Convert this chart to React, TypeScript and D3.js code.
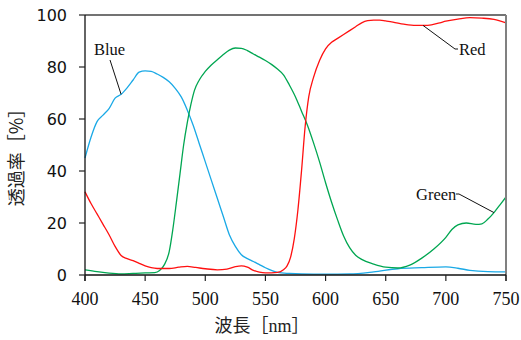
import * as d3 from 'd3';

// Transmission spectra of the three colour filters (wavelength nm -> %)
const blueNm = [400, 405, 410, 415, 420, 425, 430, 435, 440, 445, 450, 455, 460, 465, 470, 475, 480, 485, 490, 495, 500, 505, 510, 515, 520, 525, 530, 535, 540, 545, 550, 555, 560, 570, 580, 600, 620, 640, 660, 680, 700, 710, 720, 735, 750];
const blueT = [45, 53, 59, 61.5, 64, 68, 69.5, 72, 75, 78, 78.5, 78.3, 77.3, 76, 74.3, 71.8, 68.5, 63.5, 57.5, 50.5, 43.5, 36.5, 29.5, 22.5, 15.5, 11, 7.8, 6.3, 5.2, 4, 2.8, 1.8, 1, 0.6, 0.4, 0.3, 0.4, 1.2, 2.4, 2.8, 3.1, 2.6, 1.8, 1.3, 1.2];

const greenNm = [400, 410, 420, 430, 440, 450, 458, 462, 466, 470, 473, 476, 479, 482, 485, 488, 491, 495, 500, 505, 510, 515, 520, 525, 530, 535, 540, 545, 550, 555, 560, 565, 570, 575, 580, 585, 590, 595, 600, 605, 610, 615, 620, 625, 630, 640, 650, 660, 670, 680, 690, 700, 705, 710, 717, 725, 730, 735, 740, 745, 750];
const greenT = [2, 1.3, 0.7, 0.4, 0.6, 0.8, 0.9, 1.7, 4, 9, 17.5, 28, 39, 50, 58.5, 65.5, 71, 75, 78.3, 80.8, 82.8, 84.8, 86.5, 87.3, 87.2, 86.3, 85, 83.8, 82.5, 81, 79.2, 77, 73, 68.5, 63, 57.5, 50.8, 43.5, 35.5, 28, 21.2, 15, 10.5, 7.6, 6, 4.2, 3, 2.7, 3.8, 6.5, 10, 14.5, 17.5, 19.3, 20, 19.5, 19.7, 21.5, 24, 27, 30];

const redNm = [400, 405, 410, 415, 420, 425, 430, 435, 440, 445, 450, 455, 460, 470, 478, 485, 492, 500, 510, 518, 525, 530, 535, 540, 545, 550, 560, 565, 568, 571, 574, 577, 580, 583, 586, 590, 595, 600, 605, 610, 615, 620, 625, 630, 635, 640, 645, 650, 656, 665, 675, 685, 695, 700, 710, 720, 730, 740, 750];
const redT = [32, 27.5, 23.5, 19.5, 15.5, 11, 7.5, 6.3, 5.5, 4.5, 3.5, 2.8, 2.5, 2.5, 3, 3.3, 2.9, 2.4, 2, 2.3, 3.2, 3.5, 3, 1.8, 1.1, 0.8, 1, 2, 3.5, 7, 14, 25, 40, 57, 68.5, 76, 82.5, 87, 89.5, 91, 92.5, 94, 95.5, 97, 97.8, 98, 98, 97.7, 97.3, 96.5, 96, 96, 97, 97.6, 98.4, 99, 98.8, 98.3, 97];

const xTicks = [400, 450, 500, 550, 600, 650, 700, 750];
const yTicks = [0, 20, 40, 60, 80, 100];

const series = [
  { name: 'Blue', nm: blueNm, t: blueT, color: '#1aa9e6' },
  { name: 'Green', nm: greenNm, t: greenT, color: '#00a651' },
  { name: 'Red', nm: redNm, t: redT, color: '#ff1010' },
];

// label text position + leader line anchored on a wavelength of the curve
const labels = [
  { name: 'Blue', tx: 94, ty: 55, lineFrom: [110, 60], anchorNm: 430, anchorSeries: 'Blue', kink: false },
  { name: 'Red', tx: 459, ty: 55, lineFrom: [455, 49], anchorNm: 681, anchorSeries: 'Red', kink: true },
  { name: 'Green', tx: 416, ty: 200, lineFrom: [459, 194], anchorNm: 740, anchorSeries: 'Green', kink: true },
];

const W = 521;
const H = 340;
const margin = { top: 15, right: 15, bottom: 65, left: 85 };

export default function App() {
  const x = d3.scaleLinear().domain([400, 750]).range([margin.left, W - margin.right]);
  const y = d3.scaleLinear().domain([0, 100]).range([H - margin.bottom, margin.top]);
  const x0 = x(400);
  const x1 = x(750);
  const y0 = y(0);
  const yTop = y(100);

  const line = d3
    .line<[number, number]>()
    .x((d) => x(d[0]))
    .y((d) => y(d[1]))
    .curve(d3.curveMonotoneX);

  const valueAt = (name: string, nm: number) => {
    const s = series.find((d) => d.name === name)!;
    const i = d3.bisectLeft(s.nm, nm);
    if (s.nm[i] === nm) return s.t[i];
    const a = i - 1;
    const f = (nm - s.nm[a]) / (s.nm[i] - s.nm[a]);
    return s.t[a] + f * (s.t[i] - s.t[a]);
  };

  return (
    <svg width={W} height={H} style={{ position: 'absolute', left: 0, top: 0, background: '#fff' }}>
      {series.map((s) => (
        <path
          key={s.name}
          d={line(s.nm.map((n, i) => [n, s.t[i]] as [number, number])) || ''}
          fill="none"
          stroke={s.color}
          strokeWidth={1.3}
        />
      ))}

      {/* frame */}
      <line x1={x0} x2={x1} y1={yTop} y2={yTop} stroke="#444" strokeWidth={1.3} />
      <line x1={x1} x2={x1} y1={yTop} y2={y0 + 6} stroke="#808080" strokeWidth={2} />
      <line x1={x0} x2={x0} y1={yTop} y2={y0 + 6} stroke="#111" strokeWidth={1.3} />
      <line x1={x0} x2={x1} y1={y0} y2={y0} stroke="#111" strokeWidth={1.3} />

      {/* y axis */}
      {yTicks.map((t) => (
        <g key={t}>
          <line x1={x0 - 6} x2={x0} y1={y(t)} y2={y(t)} stroke="#222" strokeWidth={1.2} />
          <text
            x={x0 - 18}
            y={y(t)}
            dy="0.36em"
            textAnchor="end"
            fontFamily="DejaVu Sans"
            fontSize={16}
            fill="#111"
          >
            {t}
          </text>
        </g>
      ))}

      {/* x axis */}
      {xTicks.map((t) => (
        <g key={t}>
          <line x1={x(t)} x2={x(t)} y1={y0} y2={y0 + 6} stroke="#222" strokeWidth={1.2} />
          <text x={x(t)} y={y0 + 30} textAnchor="middle" fontFamily="Liberation Serif" fontSize={18} fill="#111">
            {t}
          </text>
        </g>
      ))}

      <text x={262} y={332} textAnchor="middle" fontSize={18} fill="#222" fontFamily="'Noto Sans CJK JP'">
        波長［<tspan fontFamily="Liberation Serif">nm</tspan>］
      </text>
      <text
        transform={`translate(23,${(yTop + y0) / 2 + 8}) rotate(-90)`}
        textAnchor="middle"
        fontSize={18}
        fill="#222"
        fontFamily="'Noto Sans CJK JP'"
      >
        透過率［%］
      </text>

      {/* curve labels */}
      {labels.map((l) => {
        const ax = x(l.anchorNm);
        const ay = y(valueAt(l.anchorSeries, l.anchorNm));
        const pts: [number, number][] = l.kink
          ? [[ax, ay], [l.lineFrom[0], l.lineFrom[1]], [l.lineFrom[0] + (l.name === 'Red' ? 3 : -3), l.lineFrom[1]]]
          : [[ax, ay], [l.lineFrom[0], l.lineFrom[1]]];
        return (
          <g key={l.name}>
            <path d={d3.line()(pts) || ''} fill="none" stroke="#111" strokeWidth={1} />
            <text x={l.tx} y={l.ty} fontFamily="Liberation Serif" fontSize={16.5} fill="#111">
              {l.name}
            </text>
          </g>
        );
      })}
    </svg>
  );
}
